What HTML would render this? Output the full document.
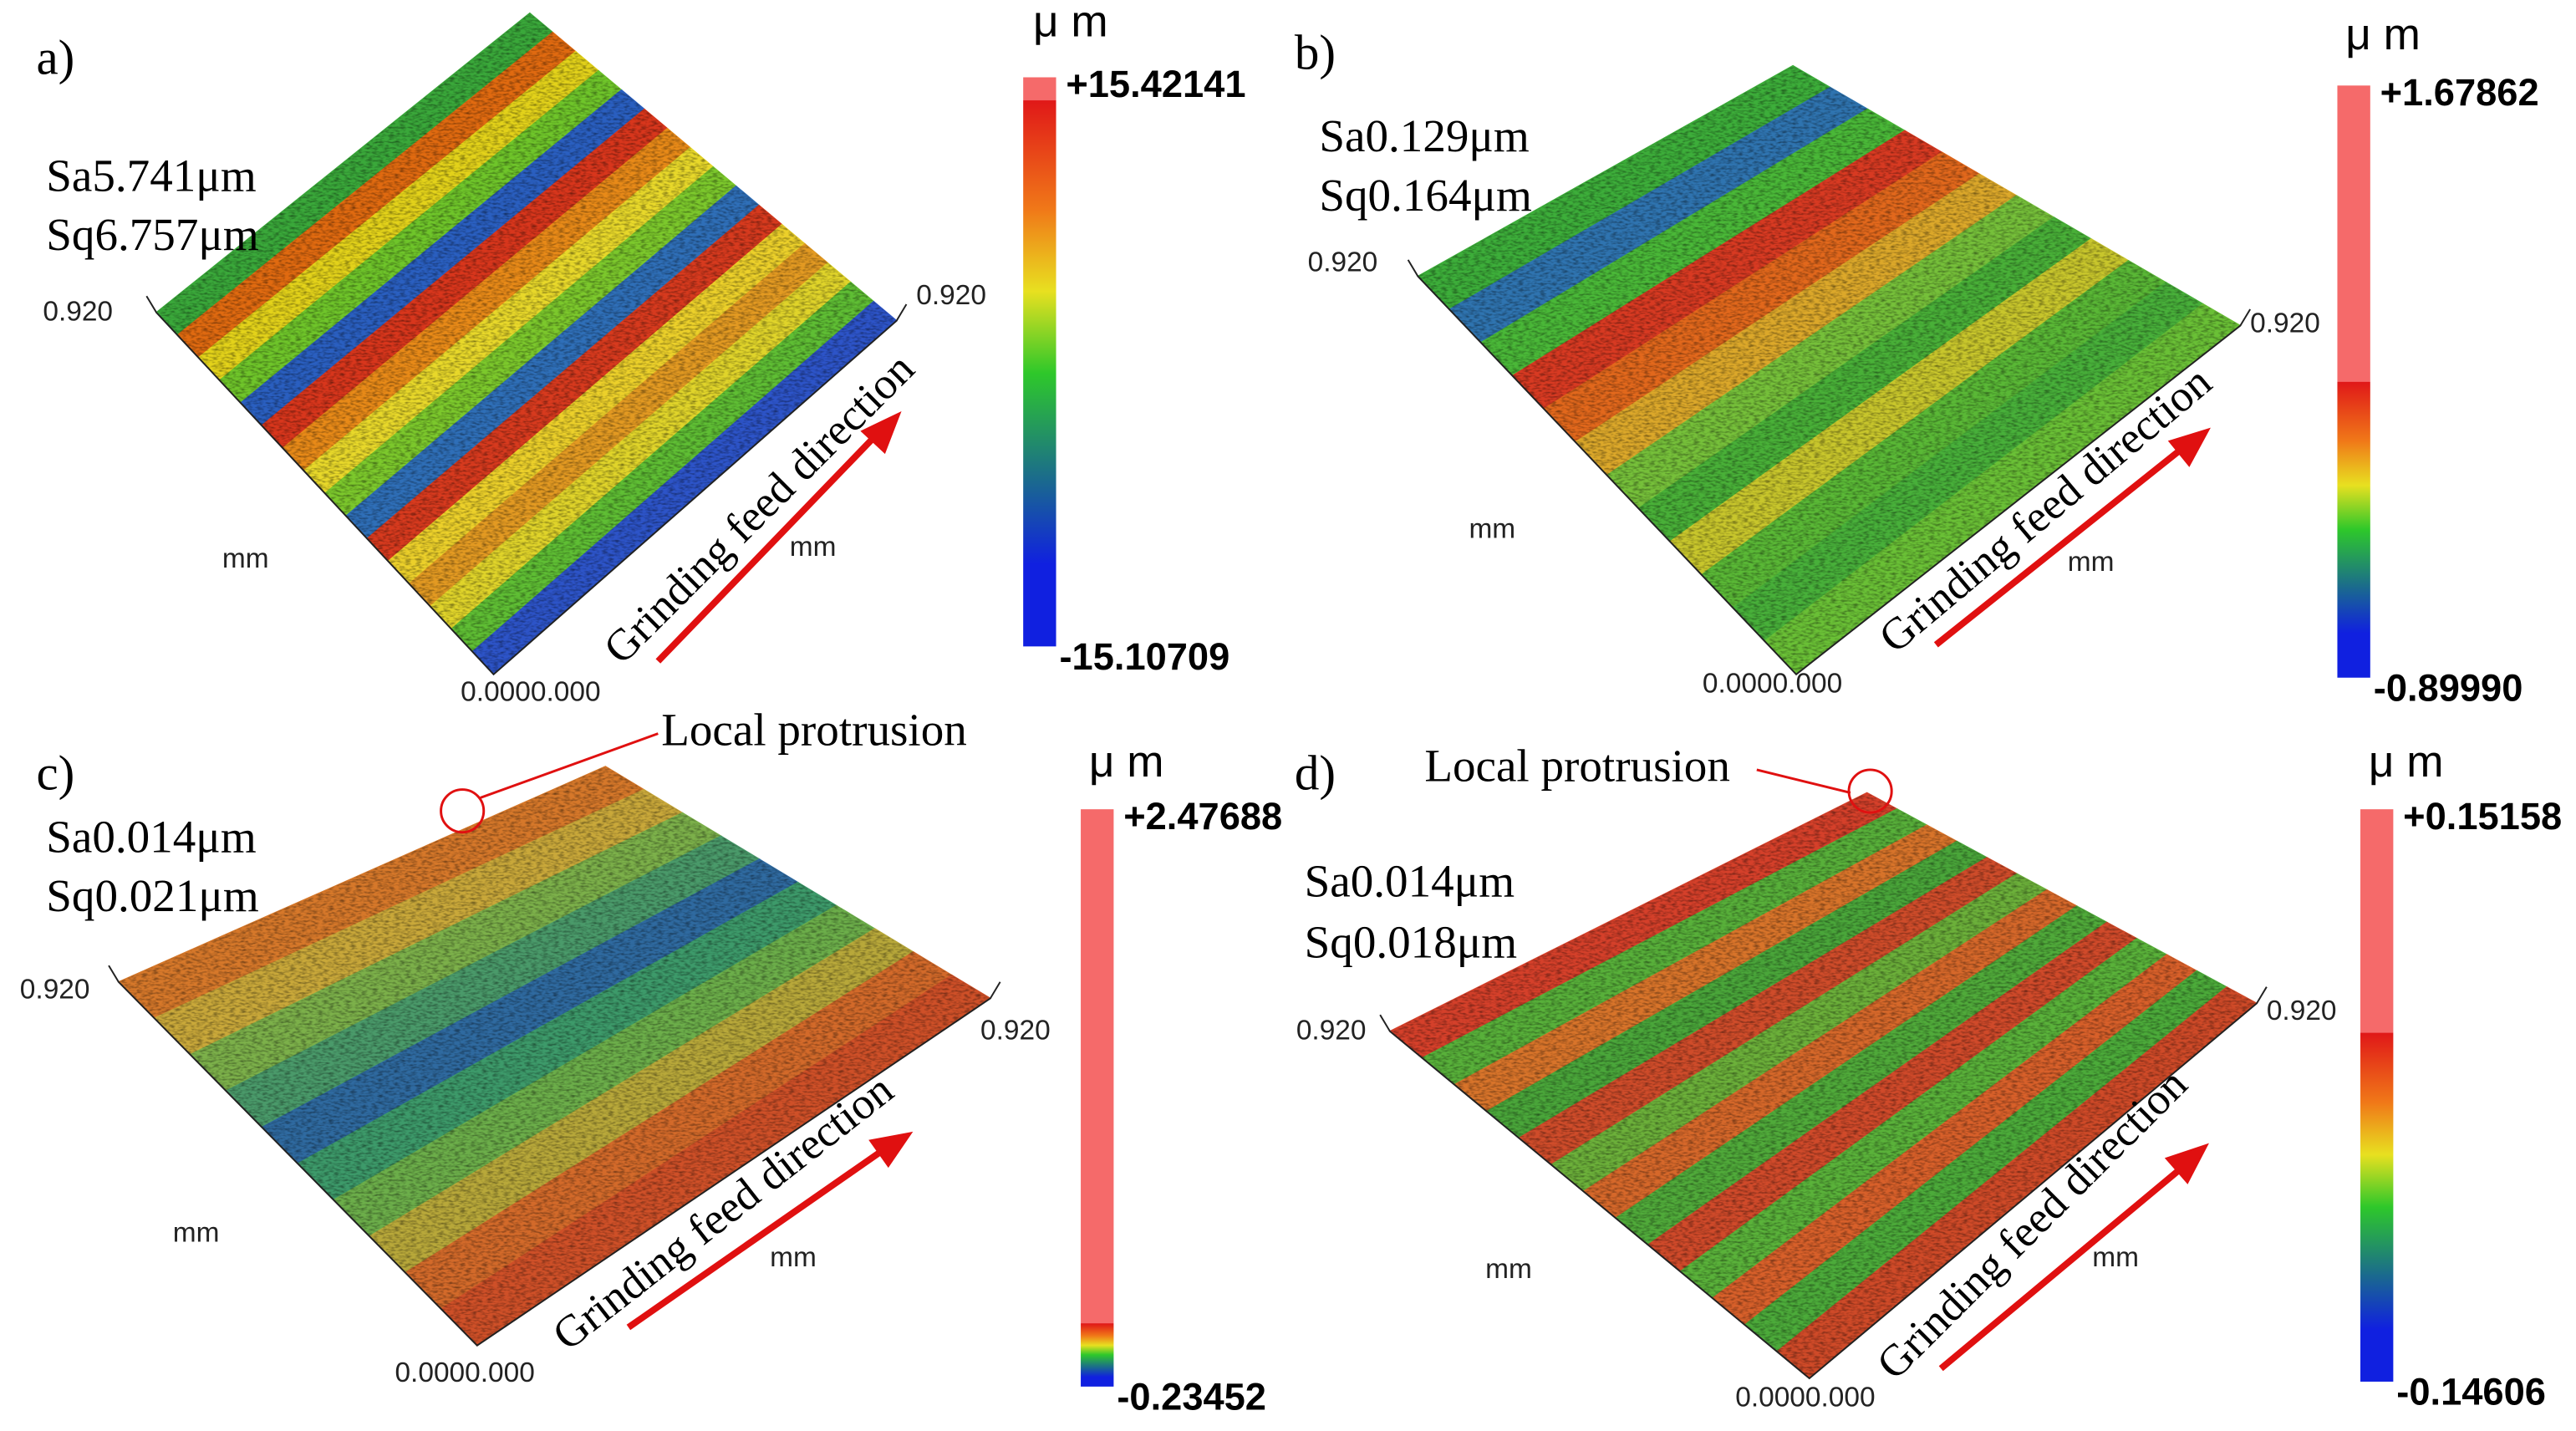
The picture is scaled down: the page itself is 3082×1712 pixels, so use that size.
<!DOCTYPE html>
<html><head><meta charset="utf-8">
<style>
html,body{margin:0;padding:0;background:#fff;}
svg{display:block;}
.lbl{font-family:"Liberation Serif",serif;font-size:30px;fill:#000;}
.sa{font-family:"Liberation Serif",serif;font-size:28px;fill:#000;}
.ax{font-family:"Liberation Sans",sans-serif;font-size:17px;fill:#222;}
.cb{font-family:"Liberation Sans",sans-serif;font-size:23px;font-weight:bold;fill:#000;}
.um{font-family:"Liberation Sans",sans-serif;font-size:27px;fill:#000;}
.gf{font-family:"Liberation Serif",serif;font-size:27px;fill:#000;}
.ann{font-family:"Liberation Serif",serif;font-size:28px;fill:#000;}
</style></head>
<body>
<svg id="fig" width="3082" height="1712" viewBox="0 0 1566 870" xmlns="http://www.w3.org/2000/svg">
<defs>
<filter id="noise" x="0" y="0" width="100%" height="100%">
<feTurbulence type="fractalNoise" baseFrequency="0.3 0.8" numOctaves="2" seed="3"/>
<feColorMatrix values="0 0 0 0 0  0 0 0 0 0  0 0 0 0 0  0 0 0 -2 1.2"/>
</filter>
</defs>
<g id="surfaces"></g>
<g id="bars"></g>
<g id="texts"></g>
</svg>
<script>
// Colour-bar data
const cbMax = ["+15.42141","+1.67862","+2.47688","+0.15158"];
const cbMin = ["-15.10709","-0.89990","-0.23452","-0.14606"];
// Colour-bar fraction where coloured ramp starts (pink above)
const cbRampStart = [0.04, 0.5, 0.89, 0.39];
// stripe colour sequences (back to front) for each panel
const stripesA = ["#3aa83a","#e06a10","#e3d21a","#6fc52a","#2a5fc0","#d8361c","#e88a18","#e8d82a","#7cc82c","#2f6fb8","#d73a1e","#ecd02a","#e39a22","#e0d42a","#5fbe34","#2d54c8"];
const stripesB = ["#3dae3a","#2f74b0","#4ab838","#d83a22","#e2681c","#dca82a","#76c03a","#49b038","#c8c62c","#5ab836","#48b03a","#6ac036"];
const stripesC = ["#d6782a","#c9a83a","#7cb04a","#4a9a6a","#2f6aa0","#3d9a6a","#6cae4a","#b8a83a","#d36a2a","#cf5028"];
const stripesD = ["#d5402a","#58b03a","#d8742a","#4aa63a","#cf4c2a","#6cb03a","#d6682a","#50aa3a","#d04a2a","#5ab23a","#d8602a","#4cab3a","#cf4a28"];

const NS="http://www.w3.org/2000/svg";
const gS=document.getElementById('surfaces');
const gB=document.getElementById('bars');
const gT=document.getElementById('texts');
function mk(tag,attrs,parent){const e=document.createElementNS(NS,tag);for(const k in attrs)e.setAttribute(k,attrs[k]);parent.appendChild(e);return e;}
function lerp(p,q,t){return [p[0]+(q[0]-p[0])*t,p[1]+(q[1]-p[1])*t];}

const panels=[
 {L:[95,190],B:[322,8],R:[545,195],F:[300,410],s:stripesA,name:'a'},
 {L:[862,168],B:[1090,40],R:[1362,198],F:[1092,410],s:stripesB,name:'b'},
 {L:[72,597],B:[368,466],R:[602,607],F:[290,818],s:stripesC,name:'c'},
 {L:[845,627],B:[1135,482],R:[1372,610],F:[1100,838],s:stripesD,name:'d'}
];
panels.forEach(p=>{
  const g=mk('g',{},gS);
  
  
  const n=p.s.length;
  p.s.forEach((c,i)=>{
    const t0=i/n,t1=(i+1)/n;
    const a=lerp(p.L,p.F,t0),b=lerp(p.B,p.R,t0),cc=lerp(p.B,p.R,t1),d=lerp(p.L,p.F,t1);
    const poly=mk('polygon',{points:[a,b,cc,d].map(q=>q.join(',')).join(' '),fill:c,stroke:c,'stroke-width':0.8},g);
    
    
  });
  const pts=[p.L,p.B,p.R,p.F].map(q=>q.join(',')).join(' ');
  const cp=mk('clipPath',{id:'cp'+p.name},g);
  mk('polygon',{points:pts},cp);
  mk('rect',{x:0,y:0,width:1566,height:870,filter:'url(#noise)',opacity:0.45,'clip-path':'url(#cp'+p.name+')'},g);
  mk('polyline',{points:[[p.L[0]-6,p.L[1]-10],p.L,p.F,p.R,[p.R[0]+6,p.R[1]-10]].map(q=>q.join(',')).join(' '),fill:'none',stroke:'#222','stroke-width':1},g);
});

// colour bars
const bars=[{x:622,y0:47,y1:393,um:[628,22]},{x:1421,y0:52,y1:412,um:[1426,30]},{x:657,y0:492,y1:843,um:[662,472]},{x:1435,y0:492,y1:840,um:[1440,472]}];
const defs=document.querySelector('defs');
bars.forEach((b,i)=>{
  const gr=mk('linearGradient',{id:'cbg'+i,x1:0,y1:0,x2:0,y2:1},defs);
  const s=cbRampStart[i], r=1-s;
  [[0,'#f56a6a'],[s,'#f56a6a'],[s+0.001,'#e01818'],[s+r*0.2,'#f07818'],[s+r*0.35,'#e8e020'],[s+r*0.5,'#2ec82a'],[s+r*0.7,'#1a6890'],[s+r*0.85,'#1020e0'],[1,'#1020e0']]
   .forEach(st=>mk('stop',{offset:Math.min(1,st[0]),'stop-color':st[1]},gr));
  const rc=mk('rect',{x:b.x,y:b.y0,width:20,height:b.y1-b.y0,fill:'url(#cbg'+i+')'},gB);
  
  
  const t1=mk('text',{x:b.x+26,y:b.y0+12,class:'cb'},gT);t1.textContent=cbMax[i];
  
  const t2=mk('text',{x:b.x+22,y:b.y1+14,class:'cb'},gT);t2.textContent=cbMin[i];
  
  const t3=mk('text',{x:b.um[0],y:b.um[1],class:'um'},gT);t3.textContent='μ m';
  
});
</script>
<svg style="position:absolute;left:0;top:0" width="3082" height="1712" viewBox="0 0 1566 870" xmlns="http://www.w3.org/2000/svg">
<g fill="none">
 <text class="lbl" x="22" y="45">a)</text>
 <text class="lbl" x="787" y="42">b)</text>
 <text class="lbl" x="22" y="480">c)</text>
 <text class="lbl" x="787" y="480">d)</text>

 <text class="sa" x="28" y="116">Sa5.741μm</text>
 <text class="sa" x="28" y="152">Sq6.757μm</text>
 <text class="sa" x="802" y="92">Sa0.129μm</text>
 <text class="sa" x="802" y="128">Sq0.164μm</text>
 <text class="sa" x="28" y="518">Sa0.014μm</text>
 <text class="sa" x="28" y="554">Sq0.021μm</text>
 <text class="sa" x="793" y="545">Sa0.014μm</text>
 <text class="sa" x="793" y="582">Sq0.018μm</text>

 <text x="26" y="195" class="ax">0.920</text>
 <text x="557" y="185" class="ax">0.920</text>
 <text x="135" y="345" class="ax">mm</text>
 <text x="480" y="338" class="ax">mm</text>
 <text x="280" y="426" class="ax">0.0000.000</text>
 <text x="795" y="165" class="ax">0.920</text>
 <text x="1368" y="202" class="ax">0.920</text>
 <text x="893" y="327" class="ax">mm</text>
 <text x="1257" y="347" class="ax">mm</text>
 <text x="1035" y="421" class="ax">0.0000.000</text>
 <text x="12" y="607" class="ax">0.920</text>
 <text x="596" y="632" class="ax">0.920</text>
 <text x="105" y="755" class="ax">mm</text>
 <text x="468" y="770" class="ax">mm</text>
 <text x="240" y="840" class="ax">0.0000.000</text>
 <text x="788" y="632" class="ax">0.920</text>
 <text x="1378" y="620" class="ax">0.920</text>
 <text x="903" y="777" class="ax">mm</text>
 <text x="1272" y="770" class="ax">mm</text>
 <text x="1055" y="855" class="ax">0.0000.000</text>

 <g>
  <text class="gf" transform="translate(378,405) rotate(-45)">Grinding feed direction</text>
  <line x1="400" y1="402" x2="535" y2="262" stroke="#e01010" stroke-width="4"/>
  <polygon points="548,250 523,262 538,276" fill="#e01010"/>
 </g>
 <g>
  <text class="gf" transform="translate(1152,398) rotate(-40)">Grinding feed direction</text>
  <line x1="1177" y1="392" x2="1330" y2="270" stroke="#e01010" stroke-width="4"/>
  <polygon points="1344,260 1318,268 1331,284" fill="#e01010"/>
 </g>
 <g>
  <text class="gf" transform="translate(345,822) rotate(-38)">Grinding feed direction</text>
  <line x1="382" y1="807" x2="540" y2="697" stroke="#e01010" stroke-width="4"/>
  <polygon points="555,688 528,693 540,710" fill="#e01010"/>
 </g>
 <g>
  <text class="gf" transform="translate(1152,840) rotate(-45)">Grinding feed direction</text>
  <line x1="1180" y1="832" x2="1330" y2="707" stroke="#e01010" stroke-width="4"/>
  <polygon points="1343,695 1316,704 1330,720" fill="#e01010"/>
 </g>

 <g>
  <text class="ann" x="402" y="453">Local protrusion</text>
  <line x1="400" y1="446" x2="292" y2="485" stroke="#e01010" stroke-width="1.5"/>
  <circle cx="281" cy="493" r="13" stroke="#e01010" stroke-width="1.5"/>
 </g>
 <g>
  <text class="ann" x="866" y="475">Local protrusion</text>
  <line x1="1068" y1="468" x2="1125" y2="482" stroke="#e01010" stroke-width="1.5"/>
  <circle cx="1137" cy="481" r="13" stroke="#e01010" stroke-width="1.5"/>
 </g>
</g>
</svg>
</body></html>
